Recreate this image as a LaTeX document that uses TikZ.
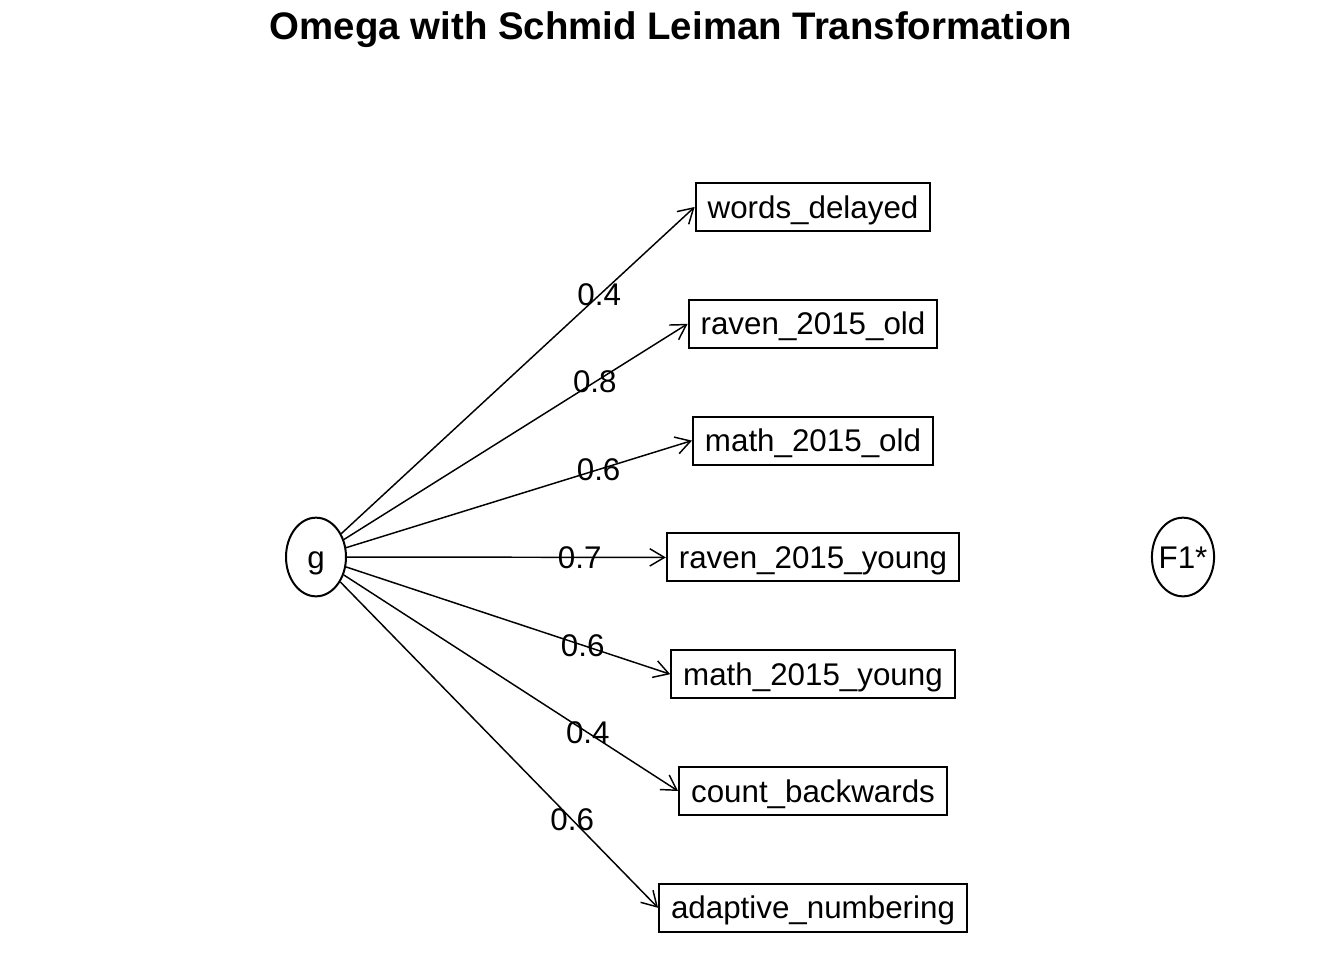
\documentclass[tikz,border=0pt]{standalone}
\usepackage{fontspec}
\setmainfont{Liberation Sans}
\usetikzlibrary{shapes,arrows.meta,positioning}

\begin{document}
\begin{tikzpicture}[x=0.75pt,y=-0.75pt,->,>={Straight Barb[length=11pt,width=13pt]},line width=1.1pt,node distance=87.6pt,font=\fontsize{23.5}{28}\selectfont]
\tikzstyle{obs}=[draw=black,rectangle,line width=1.5pt,minimum height=36pt,inner xsep=9pt,inner ysep=0pt,text height=17pt,text depth=0.5pt]
\tikzstyle{lat}=[draw=black,ellipse,line width=1.5pt,minimum width=45pt,minimum height=59pt,inner sep=0pt,text height=17pt,text depth=0.5pt]
\useasboundingbox (0,0) rectangle (1344,960);
\node[font=\bfseries\fontsize{28.8}{34}\selectfont] (title) at (671,30) {Omega with Schmid Leiman Transformation};
\node[lat] (g) at (316,557) {g};
\node[lat,minimum width=46.5pt,inner xsep=-1.8pt] (F1) at (1183,557) {F1*};
\node[obs] (wd) at (813,207) {words\_delayed};
\node[obs][below of=wd] (ro) {raven\_2015\_old};
\node[obs][below of=ro] (mo) {math\_2015\_old};
\node[obs][below of=mo] (ry) {raven\_2015\_young};
\node[obs][below of=ry] (my) {math\_2015\_young};
\node[obs][below of=my] (cb) {count\_backwards};
\node[obs][below of=cb] (an) {adaptive\_numbering};
\path (g) edge node[pos=0.73]{0.4} (wd.west)
          edge node[pos=0.73]{0.8} (ro.west)
          edge node[pos=0.73]{0.6} (mo.west)
          edge node[pos=0.73]{0.7} (ry.west)
          edge node[pos=0.73]{0.6} (my.west)
          edge node[pos=0.73]{0.4} (cb.west)
          edge node[pos=0.73]{0.6} (an.west);
\end{tikzpicture}
\end{document}
